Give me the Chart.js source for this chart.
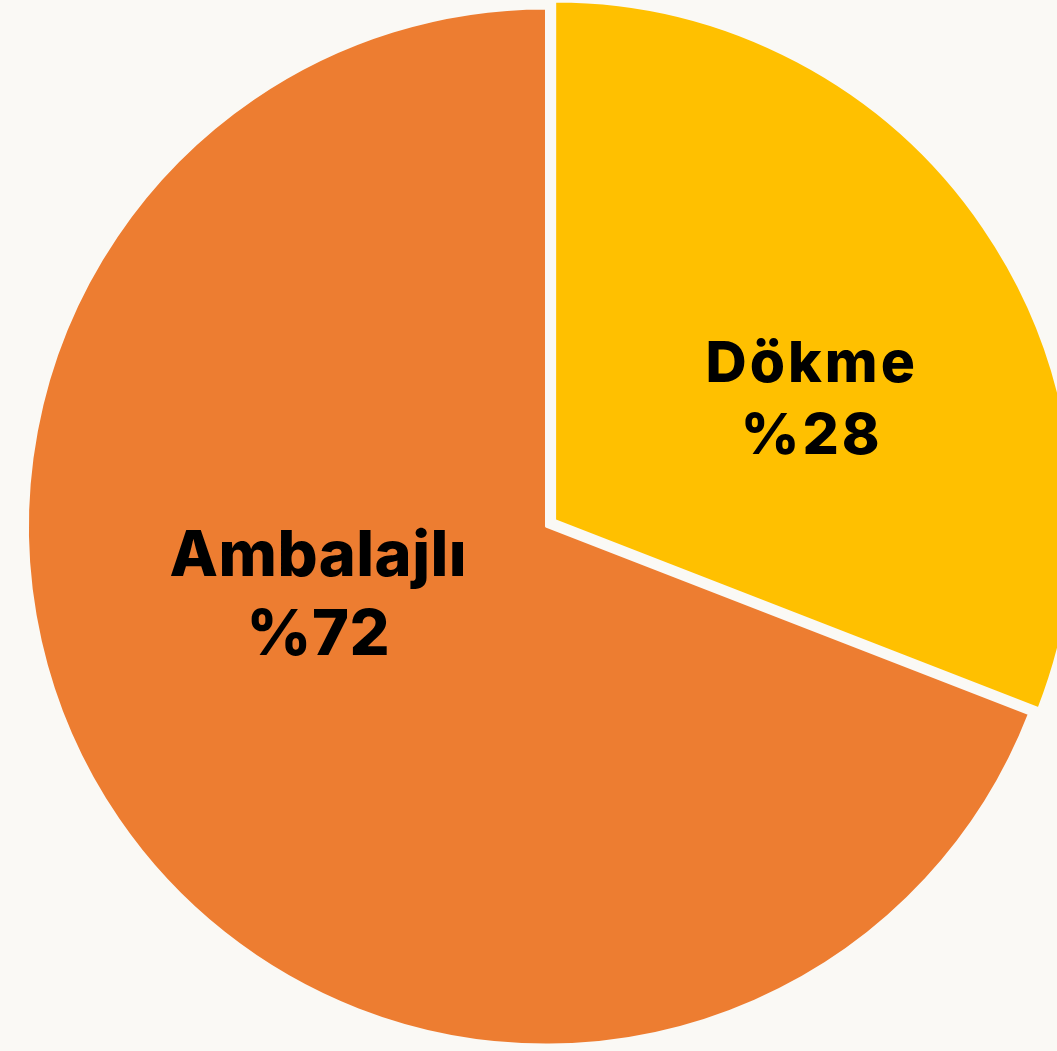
<!DOCTYPE html>
<html>
<head>
<meta charset="utf-8">
<script src="https://cdn.jsdelivr.net/npm/chart.js@4.4.1/dist/chart.umd.min.js"></script>
<style>
  html, body { margin: 0; padding: 0; background: #faf9f5; }
  #wrap { width: 1057px; height: 1051px; }
</style>
</head>
<body>
<div id="wrap"><canvas id="pieChart"></canvas></div>
<script>
// slice names, the printed shares, and the slice sizes as drawn in the picture
const categories = ['Dökme', 'Ambalajlı'];
const shareLabels = [28, 72];
const sliceValues = [30.9, 69.1];
const sliceColors = ['#ffc000', '#ed7d31'];

const bg = '#faf9f5';

// label placement relative to the pie center, in fractions of the radius
const labelSpots = [
  { fx: 0.51, fy: -0.243, size: 57, spacing: 3 },
  { fx: -0.44, fy: 0.135, size: 63, spacing: 0.5 },
];

const pieLabels = {
  id: 'pieLabels',
  afterDatasetsDraw(chart) {
    const ctx = chart.ctx;
    const meta = chart.getDatasetMeta(0);
    meta.data.forEach((arc, i) => {
      const spot = labelSpots[i];
      const r = arc.outerRadius;
      const x = arc.x + spot.fx * r;
      const y = arc.y + spot.fy * r;
      ctx.save();
      ctx.fillStyle = '#000';
      ctx.textAlign = 'center';
      ctx.textBaseline = 'middle';
      ctx.font = '800 ' + spot.size + 'px Inter';
      ctx.letterSpacing = spot.spacing + 'px';
      const gap = spot.size * 0.63;
      ctx.fillText(categories[i], x + spot.spacing / 2, y - gap);
      ctx.fillText('%' + shareLabels[i], x + spot.spacing / 2, y + gap);
      ctx.restore();
    });
  },
};

const ctx = document.getElementById('pieChart');
new Chart(ctx, {
  type: 'pie',
  data: {
    labels: categories,
    datasets: [
      {
        data: sliceValues,
        backgroundColor: sliceColors,
        borderColor: bg,
        borderWidth: 2,
        offset: [44, 0], // arc draw divides offset by 4
        clip: false,
      },
    ],
  },
  options: {
    responsive: true,
    maintainAspectRatio: false,
    animation: false,
    radius: 518,
    layout: { padding: { left: 35, right: 0, top: 2, bottom: 0 } },
    plugins: {
      legend: { display: false },
      tooltip: { enabled: false },
    },
  },
  plugins: [pieLabels],
});
</script>
</body>
</html>
